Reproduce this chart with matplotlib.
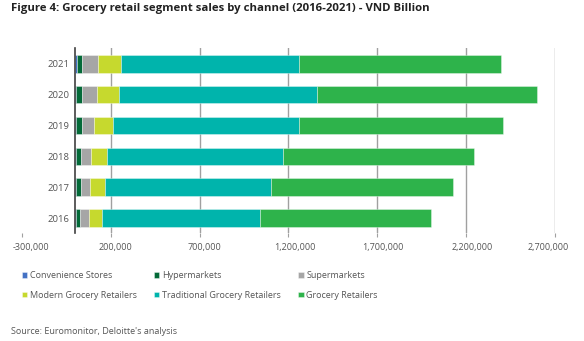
import numpy as np
import matplotlib
matplotlib.use('Agg')
import matplotlib.pyplot as plt
import matplotlib.transforms as mtransforms

plt.rcParams['font.family'] = ['Open Sans', 'DejaVu Sans']

# Years (bottom to top) and values in VND billion
years = ['2016', '2017', '2018', '2019', '2020', '2021']
convenience = [3000, 4000, 5000, 7000, 8000, 9000]
hypermarkets = [26000, 27000, 28000, 30000, 30000, 32000]
supermarkets = [47000, 53000, 57000, 69000, 84000, 88000]
modern = [75000, 84000, 92000, 109000, 124000, 129000]
traditional = [888000, 933000, 985000, 1043000, 1112000, 1003000]
grocery = [963000, 1022000, 1075000, 1148000, 1238000, 1135000]

series = [
    ('Convenience Stores', convenience, '#4472C4'),
    ('Hypermarkets', hypermarkets, '#046A38'),
    ('Supermarkets', supermarkets, '#A6A6A6'),
    ('Modern Grocery Retailers', modern, '#C6D92E'),
    ('Traditional Grocery Retailers', traditional, '#00B4AC'),
    ('Grocery Retailers', grocery, '#2EB34B'),
]

xticks = np.arange(-300000, 2700001, 500000)
# the source chart draws its labels a bit off the ticks (px)
label_shift = [9.5, 5, 5, 6, 5.5, 5.5, -7]

fig = plt.figure(figsize=(5.84, 3.41), dpi=100)
ax = fig.add_axes([0.037, 0.317, 0.914, 0.542])

y = np.arange(len(years))
left = np.zeros(len(years))
handles = []
for name, vals, col in series:
    b = ax.barh(y, vals, left=left, height=0.57, color=col, label=name,
                edgecolor=(1, 1, 1, 0.5), linewidth=0.5, zorder=3)
    handles.append(b)
    left = left + np.array(vals)

ax.set_xlim(-300000, 2700000)
ax.set_ylim(-0.48, 5.51)
ax.set_xticks(xticks)
ax.set_xticklabels([f'{v:,}' for v in xticks])
ax.set_yticks(y)
ax.set_yticklabels(years)

ax.grid(axis='x', color='#A0A0A0', linewidth=1.0, zorder=0)
ax.get_xgridlines()[0].set_visible(False)
ax.set_axisbelow(True)

for s in ['top', 'right', 'bottom']:
    ax.spines[s].set_visible(False)
ax.spines['left'].set_position(('data', 0))
ax.spines['left'].set_color('#404040')
ax.spines['left'].set_linewidth(1.2)
ax.spines['left'].set_zorder(4)

ax.tick_params(axis='x', length=3, color='#A0A0A0', labelsize=6.5,
               labelcolor='#555555', pad=4)
ax.tick_params(axis='y', length=0, labelsize=6.8, labelcolor='#555555', pad=4)

for lab, dx in zip(ax.get_xticklabels(), label_shift):
    lab.set_transform(lab.get_transform() +
                      mtransforms.ScaledTranslation(dx / 100, 0, fig.dpi_scale_trans))

# legend filled row-wise: reorder for column-first layout
order = [0, 3, 1, 4, 2, 5]
leg = fig.legend([handles[i] for i in order], [series[i][0] for i in order],
                 ncol=3, loc='upper left', bbox_to_anchor=(0.031, 0.216),
                 frameon=False, fontsize=6.5, handlelength=0.6,
                 handleheight=0.6, handletextpad=0.3, columnspacing=1.9,
                 labelspacing=1.2, borderaxespad=0)
for t in leg.get_texts():
    t.set_color('#555555')

fig.text(11 / 584, 1 - 8 / 341,
         'Figure 4: Grocery retail segment sales by channel (2016-2021) - VND Billion',
         fontsize=8.2, fontweight='bold', color='#222222', va='center', ha='left')
fig.text(11 / 584, 1 - 331 / 341, "Source: Euromonitor, Deloitte's analysis",
         fontsize=6.45, color='#555555', va='center', ha='left')

fig.savefig('out.png', dpi=100)
